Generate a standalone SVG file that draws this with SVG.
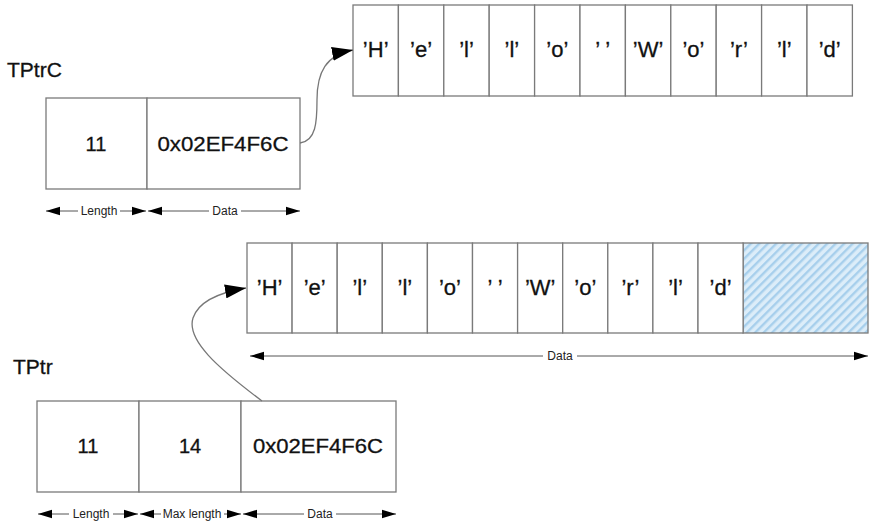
<svg xmlns="http://www.w3.org/2000/svg" width="869" height="522" viewBox="0 0 869 522">
<style>
.box{fill:#fff;stroke:#7a7a7a;stroke-width:1.3}
.big{font-family:"Liberation Sans",Arial,sans-serif;font-size:20px;fill:#111;stroke:#111;stroke-width:0.3;text-anchor:middle}
.cell{font-family:"Liberation Sans",Arial,sans-serif;font-size:22px;fill:#111;stroke:#111;stroke-width:0.3;text-anchor:middle}
.title{font-family:"Liberation Sans",Arial,sans-serif;font-size:21px;fill:#111;stroke:#111;stroke-width:0.3}
.dim{font-family:"Liberation Sans",Arial,sans-serif;font-size:12px;fill:#222;text-anchor:middle}
.dl{stroke:#555;stroke-width:1;fill:none;marker-start:url(#ds);marker-end:url(#de)}
.curve{stroke:#777;stroke-width:1.3;fill:none;marker-end:url(#ah)}
</style>
<defs>
<marker id="de" markerUnits="userSpaceOnUse" markerWidth="14" markerHeight="10" refX="14" refY="5" orient="auto"><path d="M0,0.8 L14,5 L0,9.2 z" fill="#000"/></marker>
<marker id="ds" markerUnits="userSpaceOnUse" markerWidth="14" markerHeight="10" refX="0" refY="5" orient="auto"><path d="M14,0.8 L0,5 L14,9.2 z" fill="#000"/></marker>
<marker id="ah" markerUnits="userSpaceOnUse" markerWidth="22" markerHeight="14" refX="21" refY="7" orient="auto"><path d="M0,0 L21,7 L0,14 z" fill="#000"/></marker>
<pattern id="hatch" patternUnits="userSpaceOnUse" width="6" height="6" patternTransform="rotate(45)">
<rect width="6" height="6" fill="#dcedf9"/>
<rect width="2.4" height="6" fill="#a7cfec"/>
</pattern>
</defs>
<rect width="869" height="522" fill="#fff"/>

<g id="tptrc">
<text class="title" x="7" y="77">TPtrC</text>
<rect class="box" x="46" y="98" width="101" height="91"/>
<rect class="box" x="147" y="98" width="153" height="91"/>
<text class="big" x="96" y="151">11</text>
<text class="big" x="223" y="151" textLength="131" lengthAdjust="spacingAndGlyphs">0x02EF4F6C</text>
</g>

<g id="tptrc-dims">
<line class="dl" x1="46" y1="211" x2="146" y2="211"/>
<rect x="78" y="204" width="42" height="14" fill="#fff"/>
<text class="dim" x="99" y="215">Length</text>
<line class="dl" x1="148" y1="211" x2="300" y2="211"/>
<rect x="209" y="204" width="32" height="14" fill="#fff"/>
<text class="dim" x="225" y="215">Data</text>
</g>

<g id="array-top">
<rect class="box" x="353" y="5" width="45.4" height="91"/>
<rect class="box" x="398.4" y="5" width="45.4" height="91"/>
<rect class="box" x="443.8" y="5" width="45.4" height="91"/>
<rect class="box" x="489.2" y="5" width="45.4" height="91"/>
<rect class="box" x="534.6" y="5" width="45.4" height="91"/>
<rect class="box" x="580" y="5" width="45.4" height="91"/>
<rect class="box" x="625.4" y="5" width="45.4" height="91"/>
<rect class="box" x="670.8" y="5" width="45.4" height="91"/>
<rect class="box" x="716.2" y="5" width="45.4" height="91"/>
<rect class="box" x="761.6" y="5" width="45.4" height="91"/>
<rect class="box" x="807" y="5" width="45.4" height="91"/>
<text class="cell" x="375.7" y="57">’H’</text>
<text class="cell" x="421.1" y="57">’e’</text>
<text class="cell" x="466.5" y="57">’l’</text>
<text class="cell" x="511.9" y="57">’l’</text>
<text class="cell" x="557.3" y="57">’o’</text>
<text class="cell" x="602.7" y="57">’ ’</text>
<text class="cell" x="648.1" y="57">’W’</text>
<text class="cell" x="693.5" y="57">’o’</text>
<text class="cell" x="738.9" y="57">’r’</text>
<text class="cell" x="784.3" y="57">’l’</text>
<text class="cell" x="829.7" y="57">’d’</text>
</g>

<g id="tptr">
<text class="title" x="13" y="374">TPtr</text>
<rect class="box" x="37" y="401" width="102" height="91"/>
<rect class="box" x="139" y="401" width="102" height="91"/>
<rect class="box" x="241" y="401" width="155" height="91"/>
<text class="big" x="88" y="453">11</text>
<text class="big" x="190" y="453">14</text>
<text class="big" x="318" y="453" textLength="130" lengthAdjust="spacingAndGlyphs">0x02EF4F6C</text>
</g>

<g id="tptr-dims">
<line class="dl" x1="38" y1="514" x2="138" y2="514"/>
<rect x="69" y="507" width="44" height="14" fill="#fff"/>
<text class="dim" x="91" y="518">Length</text>
<line class="dl" x1="140" y1="514" x2="241" y2="514"/>
<rect x="161" y="507" width="63" height="14" fill="#fff"/>
<text class="dim" x="192" y="518">Max length</text>
<line class="dl" x1="243" y1="514" x2="396" y2="514"/>
<rect x="304" y="507" width="32" height="14" fill="#fff"/>
<text class="dim" x="320" y="518">Data</text>
</g>

<g id="array-bottom">
<rect x="743" y="243" width="125" height="90" fill="url(#hatch)" stroke="#7a7a7a" stroke-width="1.3"/>
<rect class="box" x="247" y="243" width="45.1" height="90"/>
<rect class="box" x="292.1" y="243" width="45.1" height="90"/>
<rect class="box" x="337.2" y="243" width="45.1" height="90"/>
<rect class="box" x="382.3" y="243" width="45.1" height="90"/>
<rect class="box" x="427.4" y="243" width="45.1" height="90"/>
<rect class="box" x="472.5" y="243" width="45.1" height="90"/>
<rect class="box" x="517.6" y="243" width="45.1" height="90"/>
<rect class="box" x="562.7" y="243" width="45.1" height="90"/>
<rect class="box" x="607.8" y="243" width="45.1" height="90"/>
<rect class="box" x="652.9" y="243" width="45.1" height="90"/>
<rect class="box" x="698" y="243" width="45.1" height="90"/>
<text class="cell" x="269.6" y="295">’H’</text>
<text class="cell" x="314.7" y="295">’e’</text>
<text class="cell" x="359.8" y="295">’l’</text>
<text class="cell" x="404.9" y="295">’l’</text>
<text class="cell" x="450" y="295">’o’</text>
<text class="cell" x="495.1" y="295">’ ’</text>
<text class="cell" x="540.2" y="295">’W’</text>
<text class="cell" x="585.3" y="295">’o’</text>
<text class="cell" x="630.4" y="295">’r’</text>
<text class="cell" x="675.5" y="295">’l’</text>
<text class="cell" x="720.6" y="295">’d’</text>
</g>

<g id="array-bottom-dims">
<line class="dl" x1="250" y1="356" x2="868" y2="356"/>
<rect x="543" y="349" width="34" height="14" fill="#fff"/>
<text class="dim" x="560" y="360">Data</text>
</g>

<g id="connectors">
<path class="curve" d="M300,143 C316,141 317,122 317,100 C317,72 326,55 353,50"/>
<path class="curve" d="M262,401 C218,368 186,340 193,318 C199,300 222,292 246,288"/>
</g>
</svg>
